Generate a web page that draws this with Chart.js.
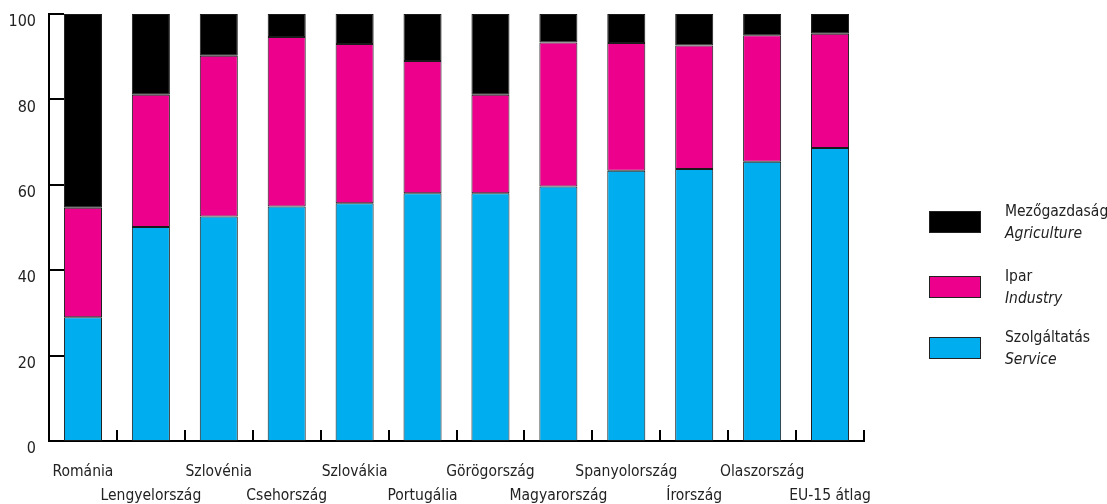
<!DOCTYPE html>
<html>
<head>
<meta charset="utf-8">
<script src="https://cdn.jsdelivr.net/npm/chart.js@4/dist/chart.umd.min.js"></script>
<style>
    body { margin: 0; background: #fff; }
    #wrap { position: relative; width: 1107px; height: 504px; }
    .legend { position: absolute; left: 929px; font-family: "Liberation Sans Narrow", "DejaVu Sans Condensed", sans-serif; font-size: 15.5px; color: #222; }
    .legend .box { position: absolute; left: 0; width: 50px; height: 20px; border: 1px solid #222; }
    .legend .txt { position: absolute; left: 76px; white-space: nowrap; line-height: 22px; }
    .legend .txt i { display: block; }
</style>
</head>
<body>
<div id="wrap">
    <canvas id="sectorChart" width="1107" height="504"></canvas>
    <div class="legend" style="top:211px"><div class="box" style="background:#000000"></div><div class="txt" style="top:-11px">Mezőgazdaság<i>Agriculture</i></div></div>
    <div class="legend" style="top:276px"><div class="box" style="background:#ec008c"></div><div class="txt" style="top:-11px">Ipar<i>Industry</i></div></div>
    <div class="legend" style="top:337px"><div class="box" style="background:#00aeef"></div><div class="txt" style="top:-11px">Szolgáltatás<i>Service</i></div></div>
</div>
<script>
const categories = ["Románia", "Lengyelország", "Szlovénia", "Csehország", "Szlovákia", "Portugália",
    "Görögország", "Magyarország", "Spanyolország", "Írország", "Olaszország", "EU-15 átlag"];
const service = [29.0, 50.1, 52.6, 54.9, 55.7, 58.0, 58.0, 59.6, 63.3, 63.7, 65.4, 68.6];
const industry = [25.6, 31.0, 37.6, 39.7, 37.3, 31.0, 23.1, 33.7, 29.9, 28.9, 29.6, 26.8];
const agriculture = [45.4, 18.9, 9.8, 5.4, 7.0, 11.0, 18.9, 6.7, 6.8, 7.4, 5.0, 4.6];
const yTicks = [0, 20, 40, 60, 80, 100];

const fontFamily = '"Liberation Sans Narrow", "DejaVu Sans Condensed", sans-serif';

// staggered labels: even ones on the first line, odd ones on the second
const labels = categories.map((c, i) => i % 2 === 0 ? [c, ""] : ["", c]);

// inward tick marks drawn from the scales
const tickMarks = {
    id: "tickMarks",
    afterDraw(chart) {
        const ctx = chart.ctx;
        const x = chart.scales.x, y = chart.scales.y;
        const area = chart.chartArea;
        ctx.save();
        ctx.strokeStyle = "#000";
        ctx.lineWidth = 2;
        yTicks.forEach(v => {
            const py = Math.round(y.getPixelForValue(v));
            ctx.beginPath();
            ctx.moveTo(area.left, py);
            ctx.lineTo(area.left + 15, py);
            ctx.stroke();
        });
        for (let i = 0; i < categories.length; i++) {
            const px = i < categories.length - 1
                ? (x.getPixelForValue(i) + x.getPixelForValue(i + 1)) / 2
                : area.right;
            ctx.beginPath();
            ctx.moveTo(Math.round(px), area.bottom);
            ctx.lineTo(Math.round(px), area.bottom - 11);
            ctx.stroke();
        }
        ctx.restore();
    }
};

const ctx = document.getElementById("sectorChart").getContext("2d");
new Chart(ctx, {
    type: "bar",
    data: {
        labels: labels,
        datasets: [
            { label: "Szolgáltatás", data: service, backgroundColor: "#00aeef" },
            { label: "Ipar", data: industry, backgroundColor: "#ec008c" },
            { label: "Mezőgazdaság", data: agriculture, backgroundColor: "#000000" }
        ]
    },
    options: {
        responsive: false,
        animation: false,
        layout: { padding: { top: 14, right: 243, left: 0, bottom: 0 } },
        datasets: {
            bar: { categoryPercentage: 1, barPercentage: 0.56, borderColor: "#1a1a1a", borderWidth: 1, borderSkipped: false }
        },
        plugins: { legend: { display: false }, tooltip: { enabled: false } },
        scales: {
            x: {
                stacked: true,
                grid: { display: false, drawTicks: false },
                border: { display: true, color: "#000", width: 2 },
                ticks: { color: "#222", padding: 19, maxRotation: 0, autoSkip: false, font: { family: fontFamily, size: 15.5, lineHeight: 1.55 } },
                afterFit(scale) { scale.height = 63; scale.paddingLeft = 0; scale.paddingRight = 0; }
            },
            y: {
                stacked: true,
                min: 0,
                max: 100,
                grid: { display: false, drawTicks: false },
                border: { display: true, color: "#000", width: 2 },
                ticks: { stepSize: 20, color: "#222", padding: 13, labelOffset: 8, font: { family: fontFamily, size: 16 } },
                afterFit(scale) { scale.width = 49; scale.paddingTop = 0; scale.paddingBottom = 0; }
            }
        }
    },
    plugins: [tickMarks]
});
</script>
</body>
</html>
